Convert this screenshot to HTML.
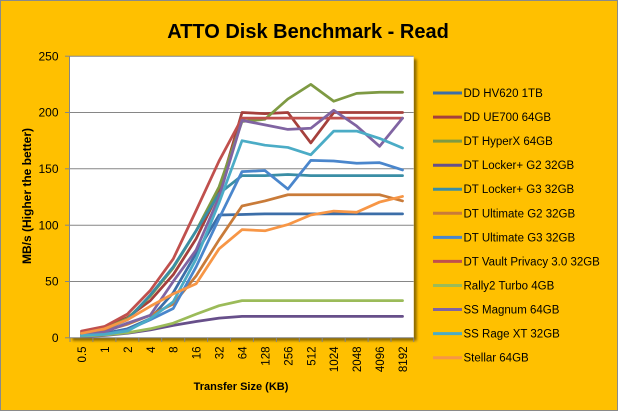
<!DOCTYPE html>
<html><head><meta charset="utf-8"><style>
html,body{margin:0;padding:0;background:#FFC000;}
svg{display:block;}
text{font-family:"Liberation Sans",Arial,sans-serif;fill:#000;}
</style></head><body>
<svg width="618" height="411" viewBox="0 0 618 411" xmlns="http://www.w3.org/2000/svg">
<defs>
<filter id="sh" x="-5%" y="-5%" width="115%" height="115%">
<feDropShadow dx="3" dy="3" stdDeviation="1.3" flood-color="#000" flood-opacity="0.45"/>
</filter>
</defs>
<rect x="0" y="0" width="618" height="411" fill="#FFC000"/>
<rect x="0.5" y="0.5" width="617" height="410" fill="none" stroke="#8a8a8a" stroke-width="1"/>
<text x="308" y="38" font-size="20" font-weight="bold" text-anchor="middle">ATTO Disk Benchmark - Read</text>

<!-- plot area -->
<rect x="69.5" y="56.2" width="344.2" height="281.6" fill="#fff" filter="url(#sh)"/>
<g stroke="#868686" stroke-width="1" fill="none">
<line x1="69.5" y1="56.2" x2="413.7" y2="56.2"/>
<line x1="69.5" y1="112.5" x2="413.7" y2="112.5"/>
<line x1="69.5" y1="168.8" x2="413.7" y2="168.8"/>
<line x1="69.5" y1="225.2" x2="413.7" y2="225.2"/>
<line x1="69.5" y1="281.5" x2="413.7" y2="281.5"/>
<line x1="69.5" y1="56.2" x2="69.5" y2="338"/>
<line x1="69.5" y1="337.8" x2="413.7" y2="337.8"/>
<line x1="65" y1="56.2" x2="69.5" y2="56.2"/>
<line x1="65" y1="112.5" x2="69.5" y2="112.5"/>
<line x1="65" y1="168.8" x2="69.5" y2="168.8"/>
<line x1="65" y1="225.2" x2="69.5" y2="225.2"/>
<line x1="65" y1="281.5" x2="69.5" y2="281.5"/>
<line x1="65" y1="337.8" x2="69.5" y2="337.8"/>
<line x1="70" y1="337.8" x2="70" y2="342"/>
<line x1="92.9" y1="337.8" x2="92.9" y2="342"/>
<line x1="115.9" y1="337.8" x2="115.9" y2="342"/>
<line x1="138.8" y1="337.8" x2="138.8" y2="342"/>
<line x1="161.7" y1="337.8" x2="161.7" y2="342"/>
<line x1="184.7" y1="337.8" x2="184.7" y2="342"/>
<line x1="207.6" y1="337.8" x2="207.6" y2="342"/>
<line x1="230.5" y1="337.8" x2="230.5" y2="342"/>
<line x1="253.4" y1="337.8" x2="253.4" y2="342"/>
<line x1="276.4" y1="337.8" x2="276.4" y2="342"/>
<line x1="299.3" y1="337.8" x2="299.3" y2="342"/>
<line x1="322.2" y1="337.8" x2="322.2" y2="342"/>
<line x1="345.2" y1="337.8" x2="345.2" y2="342"/>
<line x1="368.1" y1="337.8" x2="368.1" y2="342"/>
<line x1="391" y1="337.8" x2="391" y2="342"/>
<line x1="413.7" y1="337.8" x2="413.7" y2="342"/>
</g>

<!-- y labels -->
<g font-size="12" text-anchor="end">
<text x="58.5" y="60.4">250</text>
<text x="58.5" y="116.7">200</text>
<text x="58.5" y="173">150</text>
<text x="58.5" y="229.4">100</text>
<text x="58.5" y="285.7">50</text>
<text x="58.5" y="342">0</text>
</g>
<text transform="translate(31,196) rotate(-90)" font-size="12" font-weight="bold" text-anchor="middle">MB/s (Higher the better)</text>

<!-- x labels -->
<g font-size="11.5" text-anchor="end">
<text transform="translate(86,346.5) rotate(-90)">0.5</text>
<text transform="translate(108.9,346.5) rotate(-90)">1</text>
<text transform="translate(131.9,346.5) rotate(-90)">2</text>
<text transform="translate(154.8,346.5) rotate(-90)">4</text>
<text transform="translate(177.7,346.5) rotate(-90)">8</text>
<text transform="translate(200.7,346.5) rotate(-90)">16</text>
<text transform="translate(223.6,346.5) rotate(-90)">32</text>
<text transform="translate(246.5,346.5) rotate(-90)">64</text>
<text transform="translate(269.4,346.5) rotate(-90)">128</text>
<text transform="translate(292.4,346.5) rotate(-90)">256</text>
<text transform="translate(315.3,346.5) rotate(-90)">512</text>
<text transform="translate(338.2,346.5) rotate(-90)">1024</text>
<text transform="translate(361.2,346.5) rotate(-90)">2048</text>
<text transform="translate(384.1,346.5) rotate(-90)">4096</text>
<text transform="translate(407,346.5) rotate(-90)">8192</text>
</g>
<text x="241" y="390" font-size="11" font-weight="bold" text-anchor="middle">Transfer Size (KB)</text>

<!-- series -->
<g transform="translate(81.5,337.8) scale(22.93,-1.1264)" fill="none" stroke-width="2.75" stroke-linejoin="round" stroke-linecap="round">
<polyline vector-effect="non-scaling-stroke" stroke="#3C6EA8" points="0,2 1,4 2,8 3,17 4,40 5,75 6,109 7,109.5 8,110 9,110 10,110 11,110 12,110 13,110 14,110"/>
<polyline vector-effect="non-scaling-stroke" stroke="#A5403C" points="0,5 1,9 2,18 3,33 4,56 5,88 6,130 7,200 8,199 9,200 10,173 11,200 12,200 13,200 14,200"/>
<polyline vector-effect="non-scaling-stroke" stroke="#7E9A43" points="0,4 1,8 2,17 3,37 4,62 5,95 6,134 7,192 8,194 9,212 10,225 11,210 12,217 13,218 14,218"/>
<polyline vector-effect="non-scaling-stroke" stroke="#674F8A" points="0,1 1,2 2,4 3,7 4,11 5,14.5 6,17.5 7,19 8,19 9,19 10,19 11,19 12,19 13,19 14,19"/>
<polyline vector-effect="non-scaling-stroke" stroke="#3A8EA5" points="0,3 1,7 2,16 3,38 4,63 5,95 6,128 7,144 8,144 9,145 10,144 11,144 12,144 13,144 14,144"/>
<polyline vector-effect="non-scaling-stroke" stroke="#C97B39" points="0,3 1,6 2,12 3,20 4,30 5,55 6,87 7,117 8,121.5 9,127 10,127 11,127 12,127 13,127 14,121.5"/>
<polyline vector-effect="non-scaling-stroke" stroke="#4A86CC" points="0,2 1,3 2,7 3,16 4,26 5,63 6,106 7,147.5 8,148.5 9,132 10,157.5 11,157 12,155 13,155.5 14,149"/>
<polyline vector-effect="non-scaling-stroke" stroke="#C0504D" points="0,6 1,10 2,21 3,42 4,70 5,113 6,157 7,195 8,195 9,195 10,195 11,195 12,195 13,195 14,195"/>
<polyline vector-effect="non-scaling-stroke" stroke="#9BBB59" points="0,1.5 1,2.5 2,4.5 3,8 4,13 5,21 6,28.5 7,33 8,33 9,33 10,33 11,33 12,33 13,33 14,33"/>
<polyline vector-effect="non-scaling-stroke" stroke="#8064A2" points="0,3 1,5 2,13 3,20 4,50 5,78 6,125 7,193 8,189 9,185 10,186 11,202 12,188 13,170 14,195"/>
<polyline vector-effect="non-scaling-stroke" stroke="#4BACC6" points="0,2 1,3 2,6 3,17 4,32 5,70 6,120 7,175 8,171 9,169 10,162.5 11,183.5 12,183.5 13,177 14,168.5"/>
<polyline vector-effect="non-scaling-stroke" stroke="#F79646" points="0,4 1,8 2,16 3,28 4,39 5,48 6,79 7,96 8,95 9,100.5 10,109 11,112.5 12,111.5 13,120.5 14,125.5"/>
</g>

<!-- legend -->
<g stroke-width="3" stroke-linecap="butt">
<line x1="433" y1="93" x2="462" y2="93" stroke="#3C6EA8"/>
<line x1="433" y1="117.1" x2="462" y2="117.1" stroke="#A5403C"/>
<line x1="433" y1="141.1" x2="462" y2="141.1" stroke="#7E9A43"/>
<line x1="433" y1="165.2" x2="462" y2="165.2" stroke="#674F8A"/>
<line x1="433" y1="189.2" x2="462" y2="189.2" stroke="#3A8EA5"/>
<line x1="433" y1="213.3" x2="462" y2="213.3" stroke="#C97B39"/>
<line x1="433" y1="237.4" x2="462" y2="237.4" stroke="#4A86CC"/>
<line x1="433" y1="261.4" x2="462" y2="261.4" stroke="#C0504D"/>
<line x1="433" y1="285.5" x2="462" y2="285.5" stroke="#9BBB59"/>
<line x1="433" y1="309.5" x2="462" y2="309.5" stroke="#8064A2"/>
<line x1="433" y1="333.6" x2="462" y2="333.6" stroke="#4BACC6"/>
<line x1="433" y1="357.7" x2="462" y2="357.7" stroke="#F79646"/>
</g>
<g font-size="11.5">
<text x="463.5" y="97">DD HV620 1TB</text>
<text x="463.5" y="121.1">DD UE700 64GB</text>
<text x="463.5" y="145.1">DT HyperX 64GB</text>
<text x="463.5" y="169.2">DT Locker+ G2 32GB</text>
<text x="463.5" y="193.2">DT Locker+ G3 32GB</text>
<text x="463.5" y="217.3">DT Ultimate G2 32GB</text>
<text x="463.5" y="241.4">DT Ultimate G3 32GB</text>
<text x="463.5" y="265.4">DT Vault Privacy 3.0 32GB</text>
<text x="463.5" y="289.5">Rally2 Turbo 4GB</text>
<text x="463.5" y="313.5">SS Magnum 64GB</text>
<text x="463.5" y="337.6">SS Rage XT 32GB</text>
<text x="463.5" y="361.7">Stellar 64GB</text>
</g>
</svg>
</body></html>
